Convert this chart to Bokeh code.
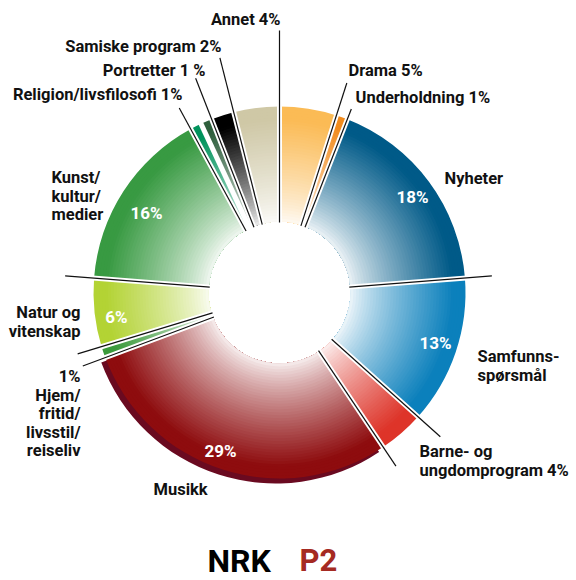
import numpy as np
from bokeh.plotting import figure
from bokeh.models import ColumnDataSource, Range1d
from bokeh.embed import file_html
from bokeh.resources import INLINE
from bokeh.core.properties import value

# ---------------- data ----------------
categories = ["Drama", "Underholdning", "Nyheter", "Samfunnsspørsmål",
              "Barne- og ungdomprogram", "Musikk", "Hjem/fritid/livsstil/reiseliv",
              "Natur og vitenskap", "Kunst/kultur/medier", "Religion/livsfilosofi",
              "Portretter", "Samiske program", "Annet"]
shares = [5, 1, 18, 13, 4, 29, 1, 6, 16, 1, 1, 2, 4]
colors = ["#FBBB55", "#F28C1E", "#005A88", "#0B80BC", "#DE3429", "#8E0C0E",
          "#3C9A3C", "#B3D334", "#389A42", "#00935C", "#2F5F3D", "#000000", "#CFC8A6"]

# outside labels: (lines, x, y of first line, align)
outer_labels = [
    (["Annet 4%"], 280, 19, "right"),
    (["Samiske program 2%"], 221, 46, "right"),
    (["Portretter 1 %"], 205, 70, "right"),
    (["Religion/livsfilosofi 1%"], 182, 94, "right"),
    (["Drama 5%"], 348, 70, "left"),
    (["Underholdning 1%"], 355, 97, "left"),
    (["Nyheter"], 444, 178, "left"),
    (["Samfunns-", "spørsmål"], 477, 356, "left"),
    (["Barne- og", "ungdomprogram  4%"], 419, 451, "left"),
    (["Musikk"], 153, 489, "left"),
    (["1%", "Hjem/", "fritid/", "livsstil/", "reiseliv"], 80, 376, "right"),
    (["Natur og", "vitenskap"], 80, 312, "right"),
    (["Kunst/", "kultur/", "medier"], 51, 177, "left"),
]
inner_labels = ["18%", "13%", "29%", "6%", "16%"]
inner_pos = [(412, 196), (435, 342), (220, 450), (116, 316), (146, 212)]

# leader lines along slice boundaries: (cumulative share at boundary, outer radius)
leader_bounds = [0, 5, 6, 24, 37, 41, 70, 71, 77, 93, 95, 97]
leader_len = [262, 220, 197, 213, 216, 209, 210, 211, 215, 210, 230, 242]

# ---------------- figure ----------------
def Y(py):
    return 580 - py

p = figure(width=576, height=580, x_range=Range1d(0, 576), y_range=Range1d(0, 580),
           output_backend="svg", toolbar_location=None,
           x_axis_location=None, y_axis_location=None,
           min_border=0, min_border_left=0, min_border_right=0,
           min_border_top=0, min_border_bottom=0)
p.grid.visible = False
p.outline_line_color = None
p.background_fill_color = "white"
p.border_fill_color = "white"

CX, CY = 279, Y(292)
R_IN, R_OUT = 71, 186

total = float(sum(shares))
cum = np.concatenate([[0], np.cumsum(shares)]) / total * 2 * np.pi  # clockwise from top


def hex2rgb(h):
    h = h.lstrip("#")
    return np.array([int(h[i:i + 2], 16) for i in (0, 2, 4)], dtype=float)


def mix(c, f):
    w = np.array([255.0, 255.0, 255.0])
    v = w + (hex2rgb(c) - w) * f
    v = np.clip(v, 0, 255).astype(int)
    return "#%02x%02x%02x" % tuple(v)

# Musikk dark rim (3D edge)
mi = categories.index("Musikk")
p.annular_wedge(x=CX - 4, y=CY - 5, inner_radius=R_IN + 40, outer_radius=R_OUT,
                start_angle=np.pi / 2 - cum[mi + 1], end_angle=np.pi / 2 - cum[mi],
                color="#6A0A20", line_color=None)

# radial gradient rings, drawn from outside in
N = 40
xs, ys, outs, sa, ea, cols = [], [], [], [], [], []
for j in range(N):
    r = R_OUT - j * (R_OUT - R_IN) / N
    t = (r - R_IN) / (R_OUT - R_IN)
    f = 0.04 + 0.96 * min(1.0, t * 1.1) ** 0.8
    for k, c in enumerate(colors):
        xs.append(CX)
        ys.append(CY)
        outs.append(r)
        sa.append(np.pi / 2 - cum[k + 1])
        ea.append(np.pi / 2 - cum[k])
        cols.append(mix(c, f))
src = ColumnDataSource(dict(x=xs, y=ys, r=outs, sa=sa, ea=ea, c=cols))
p.annular_wedge(x="x", y="y", inner_radius=R_IN, outer_radius="r",
                start_angle="sa", end_angle="ea", fill_color="c", line_color=None,
                source=src)

# white gaps between slices
b = cum[:-1]
p.segment(x0=CX + (R_IN - 5) * np.sin(b), y0=CY + (R_IN - 5) * np.cos(b),
          x1=CX + (R_OUT + 8) * np.sin(b), y1=CY + (R_OUT + 8) * np.cos(b),
          line_color="white", line_width=5)

# leader lines
lb = np.array(leader_bounds) / total * 2 * np.pi
ll = np.array(leader_len, dtype=float)
p.segment(x0=CX + 70 * np.sin(lb), y0=CY + 70 * np.cos(lb),
          x1=CX + ll * np.sin(lb), y1=CY + ll * np.cos(lb),
          line_color="#111111", line_width=1.2)

# outside labels
LH = 18.5
for lines, x, y, align in outer_labels:
    p.text(x=[x] * len(lines), y=[Y(y + i * LH) for i in range(len(lines))], text=lines,
           text_align=align, text_baseline="middle", text_font=value("Roboto"),
           text_font_style="bold", text_font_size="16.5px", text_color="#111111")

# inner percentage labels
p.text(x=[q[0] for q in inner_pos], y=[Y(q[1]) for q in inner_pos], text=inner_labels,
       text_align="center", text_baseline="middle", text_font=value("Roboto"),
       text_font_style="bold", text_font_size="17px", text_color="white")

# logo
p.text(x=[207], y=[Y(560)], text=["NRK"], text_align="left", text_baseline="middle",
       text_font=value("Roboto"), text_font_style="bold", text_font_size="32px",
       text_color="#000000")
p.text(x=[299], y=[Y(560)], text=["P2"], text_align="left", text_baseline="middle",
       text_font=value("Roboto"), text_font_style="bold", text_font_size="31px",
       text_color="#A52A22")

open("out.html", "w").write(file_html(p, INLINE))
